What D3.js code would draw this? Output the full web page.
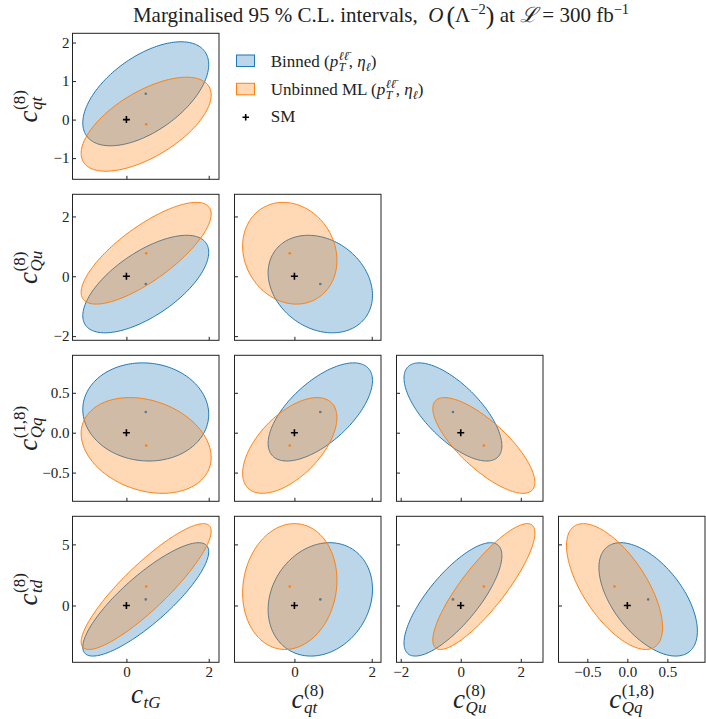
<!DOCTYPE html>
<html>
<head>
<meta charset="utf-8">
<script src="https://cdn.jsdelivr.net/npm/d3@7"></script>
<style>
  body { margin: 0; background: #fff; }
  text { font-family: "Liberation Serif", "DejaVu Serif", serif; fill: #222; white-space: pre; }
</style>
</head>
<body>
<svg id="chart" width="706" height="719"></svg>
<script>
// Coefficients, in order: ctG, cqt, cQu, cQq, ctd
const coeffSub = ["tG", "qt", "Qu", "Qq", "td"];
const coeffSup = ["", "(8)", "(8)", "(1,8)", "(8)"];
const axisRange = [[-1.31, 2.25], [-1.55, 2.24], [-2.14, 2.74], [-0.86, 0.97], [-4.65, 7.3]];
const xTicks = [[0, 2], [0, 2], [-2, 0, 2], [-0.5, 0, 0.5]];
const yTicks = [[-1, 0, 1, 2], [-2, 0, 2], [-0.5, 0, 0.5], [0, 5]];

// best-fit points and 95% half-widths of each fit
const binnedCentre = [0.47, 0.67, -0.26, 0.26, 0.50];
const binnedHalf = [1.53, 1.35, 1.63, 0.615, 4.64];
const unbinnedCentre = [0.48, -0.12, 0.77, -0.16, 1.55];
const unbinnedHalf = [1.58, 1.22, 1.70, 0.60, 5.15];
// correlations, lower triangle: row i holds corr(i, 0..i-1)
const binnedCorr = [[], [0.56], [0.65, -0.23], [-0.05, 0.64, -0.69], [0.84, 0.18, 0.77, -0.56]];
const unbinnedCorr = [[], [0.62], [0.77, -0.14], [-0.25, 0.58, -0.77], [0.88, 0.10, 0.85, -0.65]];
const smPoint = [0, 0, 0, 0, 0];

const fits = [
  { name: "Binned", colour: "#1f77b4", centre: binnedCentre, half: binnedHalf, corr: binnedCorr },
  { name: "Unbinned ML", colour: "#ff7f0e", centre: unbinnedCentre, half: unbinnedHalf, corr: unbinnedCorr }
];

const svg = d3.select("#chart");
const panelW = 146.5, panelH = 146;
const colLeft = i => 72.5 + i * 162;
const rowTop = j => 33.3 + j * 161;

// Lay out a run of text pieces (sub/superscripts) and return the total width.
// A piece with stack:true shares its x position with the next piece.
function mathText(g, pieces) {
  let x = 0, stackW = 0;
  pieces.forEach(p => {
    const t = g.append("text")
      .attr("x", x)
      .attr("y", p.dy || 0)
      .style("font-size", p.size + "px")
      .style("font-style", p.italic ? "italic" : "normal")
      .text(p.t);
    const w = t.node().getComputedTextLength() + (p.gap || 0);
    if (p.stack) {
      stackW = Math.max(stackW, w);
    } else {
      x += Math.max(w, stackW);
      stackW = 0;
    }
  });
  return x;
}

function coeffPieces(i) {
  const pieces = [{ t: "c", size: 27, italic: true, gap: 0.5 }];
  if (coeffSup[i]) pieces.push({ t: coeffSup[i], size: 17, dy: -12, stack: true });
  pieces.push({ t: coeffSub[i], size: 17, italic: true, dy: 5 });
  return pieces;
}

// Ellipse outline for two coefficients of one fit
function ellipsePoints(fit, xi, yi) {
  const cx = fit.centre[xi], cy = fit.centre[yi];
  const sx = fit.half[xi], sy = fit.half[yi];
  const rho = fit.corr[yi][xi];
  const k = Math.sqrt(1 - rho * rho);
  return d3.range(0, 2 * Math.PI, Math.PI / 90).map(t => [
    cx + sx * Math.cos(t),
    cy + sy * (rho * Math.cos(t) + k * Math.sin(t))
  ]);
}

for (let r = 1; r < 5; r++) {
  for (let c = 0; c < r; c++) {
    const g = svg.append("g").attr("transform", `translate(${colLeft(c)},${rowTop(r - 1)})`);
    const x = d3.scaleLinear().domain(axisRange[c]).range([0, panelW]);
    const y = d3.scaleLinear().domain(axisRange[r]).range([panelH, 0]);

    g.append("clipPath").attr("id", `clip${r}${c}`)
      .append("rect").attr("width", panelW).attr("height", panelH);
    const body = g.append("g").attr("clip-path", `url(#clip${r}${c})`);

    const line = d3.line().x(d => x(d[0])).y(d => y(d[1])).curve(d3.curveLinearClosed);
    fits.forEach(fit => {
      body.append("path")
        .attr("d", line(ellipsePoints(fit, c, r)))
        .attr("fill", fit.colour)
        .attr("fill-opacity", 0.3)
        .attr("stroke", fit.colour)
        .attr("stroke-width", 1);
      body.append("circle")
        .attr("cx", x(fit.centre[c]))
        .attr("cy", y(fit.centre[r]))
        .attr("r", 1.3)
        .attr("fill", fit.colour);
    });

    // SM point
    const px = x(smPoint[c]), py = y(smPoint[r]);
    body.append("path")
      .attr("d", `M${px - 3.5},${py}H${px + 3.5}M${px},${py - 3.5}V${py + 3.5}`)
      .attr("stroke", "#000")
      .attr("stroke-width", 1.6);

    const xFmt = c === 3 ? d3.format(".1f") : d3.format("d");
    const yFmt = r === 3 ? d3.format(".1f") : d3.format("d");

    const xAxis = g.append("g").attr("transform", `translate(0,${panelH})`)
      .call(d3.axisBottom(x).tickValues(xTicks[c]).tickSize(-3.5).tickPadding(4)
        .tickFormat(r === 4 ? xFmt : () => ""));
    const yAxis = g.append("g")
      .call(d3.axisLeft(y).tickValues(yTicks[r - 1]).tickSize(-3.5).tickPadding(3)
        .tickFormat(c === 0 ? yFmt : () => ""));
    [xAxis, yAxis].forEach(a => {
      a.attr("font-family", null).attr("font-size", null);
      a.select(".domain").remove();
      a.selectAll("line").attr("stroke", "#222");
      a.selectAll("text").style("font-size", "15px").attr("fill", "#222");
    });

    g.append("rect")
      .attr("width", panelW).attr("height", panelH)
      .attr("fill", "none").attr("stroke", "#222").attr("stroke-width", 1);
  }
}

// x labels along the bottom row
for (let c = 0; c < 4; c++) {
  const g = svg.append("g");
  const w = mathText(g, coeffPieces(c));
  g.attr("transform", `translate(${colLeft(c) + panelW / 2 - w / 2},${coeffSup[c] ? 708 : 703})`);
}
// y labels down the first column
for (let r = 1; r < 5; r++) {
  const g = svg.append("g");
  const w = mathText(g, coeffPieces(r));
  g.attr("transform", `translate(37,${rowTop(r - 1) + panelH / 2 + w / 2}) rotate(-90)`);
}

// legend
const legend = svg.append("g");
const legendPieces = name => [
  { t: name + " (", size: 17 },
  { t: "p", size: 17, italic: true, gap: 0.5 },
  { t: "ℓℓ̄", size: 12, italic: true, dy: -7, stack: true },
  { t: "T", size: 12, italic: true, dy: 4 },
  { t: ", ", size: 17 },
  { t: "η", size: 17, italic: true },
  { t: "ℓ", size: 12, italic: true, dy: 4 },
  { t: ")", size: 17 }
];
fits.forEach((fit, i) => {
  const yTop = 55 + i * 28.3;
  legend.append("rect")
    .attr("x", 236.5).attr("y", yTop).attr("width", 18).attr("height", 11.5)
    .attr("fill", fit.colour).attr("fill-opacity", 0.3)
    .attr("stroke", fit.colour).attr("stroke-width", 1);
  const t = legend.append("g").attr("transform", `translate(270.7,${yTop + 12})`);
  mathText(t, legendPieces(fit.name));
});
legend.append("path")
  .attr("d", "M242.5,117.3H249M245.7,114V120.6")
  .attr("stroke", "#000").attr("stroke-width", 1.6);
legend.append("text").attr("x", 270.7).attr("y", 122).style("font-size", "17px").text("SM");

// title
const title = svg.append("g");
const tw = mathText(title, [
  { t: "Marginalised 95 % C.L. intervals,  ", size: 21 },
  { t: "O", size: 21, italic: true, gap: 3 },
  { t: "(", size: 26, dy: 1.5 },
  { t: "Λ", size: 21 },
  { t: "−2", size: 14.5, dy: -8 },
  { t: ")", size: 26, dy: 1.5 },
  { t: " at ", size: 21 },
  { t: "ℒ", size: 21, italic: true },
  { t: " = 300 fb", size: 21 },
  { t: "−1", size: 14.5, dy: -8 }
]);
title.attr("transform", `translate(${381 - tw / 2},22)`);
</script>
</body>
</html>
